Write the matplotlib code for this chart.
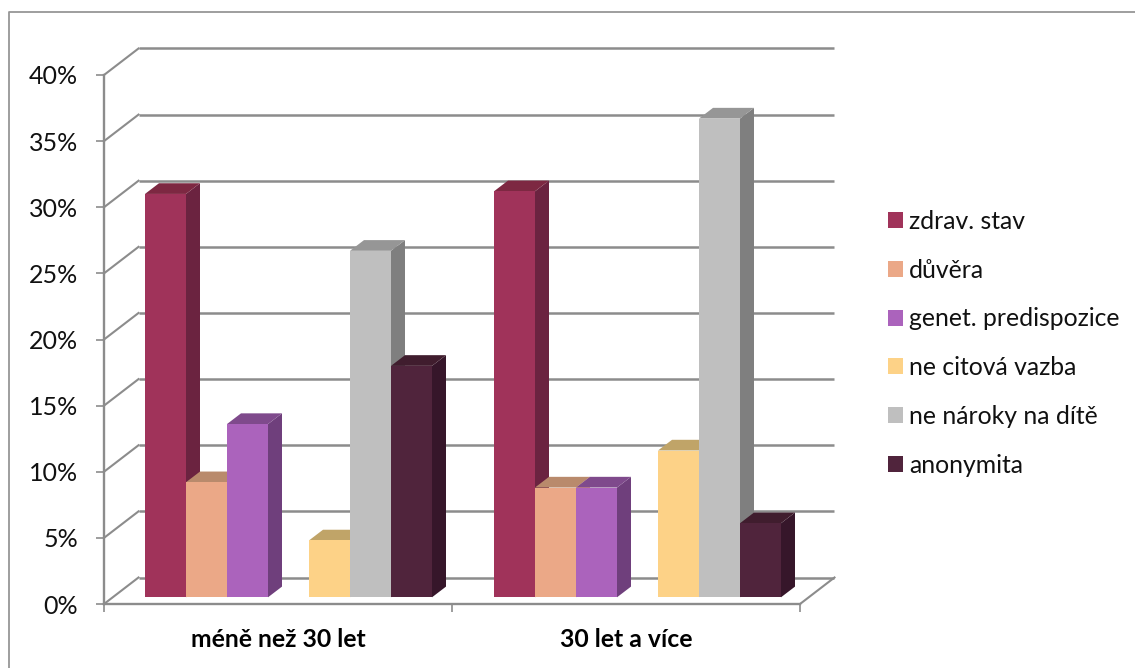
import matplotlib
matplotlib.use('Agg')
import numpy as np
from matplotlib import pyplot as plt
from matplotlib.lines import Line2D
from matplotlib.patches import Patch
from matplotlib.ticker import FuncFormatter

categories = ['méně než 30 let', '30 let a více']
series_names = ['zdrav. stav', 'důvěra', 'genet. predispozice',
                'ne citová vazba', 'ne nároky na dítě', 'anonymita']
under_30 = [30.5, 8.7, 13.1, 4.3, 26.2, 17.5]
over_30 = [30.7, 8.3, 8.3, 11.1, 36.2, 5.6]

front_colors = ['#A0335A', '#EBA887', '#AB63BC', '#FDD287', '#BFBFBF', '#50243C']
side_colors = ['#6B2340', '#EBA887', '#6F3F7C', '#FDD287', '#7F7F7F', '#36162A']
top_colors = ['#7D2842', '#B98A6C', '#7F4A8C', '#C0A468', '#969696', '#401D2E']
grid_color = '#8C8C8C'

W, H = 1135, 668
plt.rcParams['font.family'] = ['Lato', 'DejaVu Sans']

fig = plt.figure(figsize=(W / 100, H / 100), dpi=100)
ax = fig.add_axes([104 / W, 1 - 604 / H, 696 / W, 529 / H])
ax.set_xlim(0, 2)
ax.set_ylim(0, 40)

# pixel sizes expressed in data units
px_x = 2 / 696
px_y = 40 / 529
wall_dx, wall_dy = 34.5 * px_x, 26.5 * px_y
bar_dx, bar_dy = 14 * px_x, 10.7 * px_y
bar_w = 41 * px_x
bar_lift = 6.7 * px_y
bar_offset = 41 * px_x

# back wall and the slanted side wall
for v in range(0, 45, 5):
    ax.plot([wall_dx, 2 + wall_dx], [v + wall_dy, v + wall_dy], color=grid_color,
            lw=1.8, clip_on=False, zorder=1, solid_capstyle='butt')
    ax.plot([0, wall_dx], [v, v + wall_dy], color=grid_color,
            lw=1.5, clip_on=False, zorder=1)
ax.plot([2, 2 + wall_dx], [0, wall_dy], color=grid_color, lw=1.5,
        clip_on=False, zorder=1)

# every bar is a front face plus a side and a top, left to right
z = 3
for g, values in enumerate([under_30, over_30]):
    # the fourth slot of each group stays empty
    slots = [0, 1, 2, 4, 5, 6]
    for i, val in enumerate(values):
        x0 = g + bar_offset + slots[i] * bar_w + (1 * px_x if g else 0)
        x1 = x0 + bar_w
        y0 = bar_lift
        y1 = bar_lift + val
        ax.fill([x1, x1 + bar_dx, x1 + bar_dx, x1],
                [y0, y0 + bar_dy, y1 + bar_dy, y1],
                color=side_colors[i], lw=0, clip_on=False, zorder=z)
        ax.fill([x0, x1, x1 + bar_dx, x0 + bar_dx],
                [y1, y1, y1 + bar_dy, y1 + bar_dy],
                color=top_colors[i], lw=0, clip_on=False, zorder=z)
        ax.bar(x0, val, width=bar_w, bottom=y0, align='edge',
               color=front_colors[i], lw=0, clip_on=False, zorder=z)
        z += 1

ax.patch.set_visible(False)
for s in ['top', 'right']:
    ax.spines[s].set_visible(False)
for s in ['left', 'bottom']:
    ax.spines[s].set_color(grid_color)
    ax.spines[s].set_linewidth(1.7)

ax.set_yticks(range(0, 45, 5))
ax.yaxis.set_major_formatter(FuncFormatter(lambda v, pos: '%d%%' % v))
ax.tick_params(axis='y', length=5.5, width=1.2, color=grid_color, pad=13,
               labelsize=18, labelcolor='#111111')
ax.set_xticks([0, 1, 2])
ax.set_xticklabels([])
ax.set_xticks([0.5, 1.5], minor=True)
ax.set_xticklabels(categories, minor=True, fontsize=17.8, fontweight='bold')
ax.tick_params(axis='x', which='major', length=5.5, width=1.2, color=grid_color)
ax.tick_params(axis='x', which='minor', length=0, pad=17)

handles = [Patch(facecolor=c, lw=0) for c in front_colors]
fig.legend(handles, series_names, loc='upper left',
           bbox_to_anchor=(888 / W, 1 - 210 / H), frameon=False,
           fontsize=17.8, labelcolor='#111111', handlelength=0.61,
           handleheight=0.61, handletextpad=0.24, labelspacing=1.04,
           borderpad=0, borderaxespad=0)

# chart frame, runs off the right and bottom edges
fig.add_artist(Line2D([8.5 / W, 8.5 / W, 1], [0, 1 - 12 / H, 1 - 12 / H],
                      color='#969696', lw=1.3))

fig.savefig('out.png', dpi=100)
